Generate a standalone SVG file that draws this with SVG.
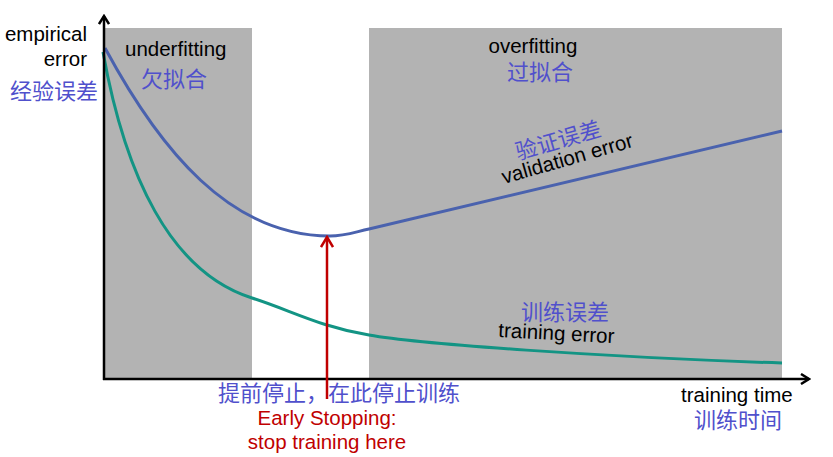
<svg xmlns="http://www.w3.org/2000/svg" width="833" height="457" viewBox="0 0 833 457">
<defs>
<style>
.en{font-family:"Liberation Sans",Arial,sans-serif;font-size:20.5px;fill:#000}
.cn{font-family:"Noto Sans CJK SC","Liberation Sans",sans-serif;font-size:22px;fill:#5050cc}
.red{font-family:"Liberation Sans",Arial,sans-serif;font-size:20.5px;fill:#c00000}
.band{fill:#b3b3b3}
.axis{stroke:#000;stroke-width:2.5;fill:none}
</style>
<marker id="ah" viewBox="0 0 12 12" refX="10" refY="6" markerWidth="12" markerHeight="12" markerUnits="userSpaceOnUse" orient="auto">
<polyline points="2,1 10,6 2,11" fill="none" stroke="#000" stroke-width="2.5"/>
</marker>
<marker id="rh" viewBox="0 0 14 14" refX="12" refY="7" markerWidth="14" markerHeight="14" markerUnits="userSpaceOnUse" orient="auto">
<polyline points="2,1 12,7 2,13" fill="none" stroke="#c00000" stroke-width="2.5"/>
</marker>
</defs>
<rect width="833" height="457" fill="#fff"/>
<g id="underfitting-band"><rect class="band" x="104" y="28" width="148" height="351"/></g>
<g id="overfitting-band"><rect class="band" x="369" y="28" width="413" height="351"/></g>
<g id="connectors">
<path id="validation-curve" d="M105,48 C160,150 230,236 330,236 C345,236 355,232 369,229 L782,131" fill="none" stroke="#4a62ae" stroke-width="3"/>
<path id="training-curve" d="M103,52 C125,175 170,272 252,298 C290,310 320,327 369,335 C420,344 600,357 782,363" fill="none" stroke="#139484" stroke-width="3"/>
<line class="axis" x1="104" y1="380" x2="104" y2="16" marker-end="url(#ah)"/>
<line class="axis" x1="103" y1="379" x2="809" y2="379" marker-end="url(#ah)"/>
<line x1="327" y1="399" x2="327" y2="237" stroke="#c00000" stroke-width="2.5" marker-end="url(#rh)"/>
</g>
<g id="y-label">
<text class="en" x="87" y="41" text-anchor="end">empirical</text>
<text class="en" x="87" y="66" text-anchor="end">error</text>
<text class="cn" x="10" y="99">经验误差</text>
</g>
<g id="underfitting-label">
<text class="en" x="125" y="56">underfitting</text>
<text class="cn" x="141" y="87">欠拟合</text>
</g>
<g id="overfitting-label">
<text class="en" x="533" y="53" text-anchor="middle">overfitting</text>
<text class="cn" x="540" y="80" text-anchor="middle">过拟合</text>
</g>
<g id="validation-label">
<text class="cn" transform="translate(518,160) rotate(-16)">验证误差</text>
<text class="en" transform="translate(504,184) rotate(-16)">validation error</text>
</g>
<g id="training-label">
<text class="cn" x="521" y="320">训练误差</text>
<text class="en" transform="translate(498,337) rotate(3)">training error</text>
</g>
<g id="x-label">
<text class="en" x="681" y="402">training time</text>
<text class="cn" x="694" y="428">训练时间</text>
</g>
<g id="early-stopping-label">
<text class="cn" x="218" y="401">提前停止，在此停止训练</text>
<text class="red" x="327" y="425" text-anchor="middle">Early Stopping:</text>
<text class="red" x="327" y="449" text-anchor="middle">stop training here</text>
</g>
</svg>
